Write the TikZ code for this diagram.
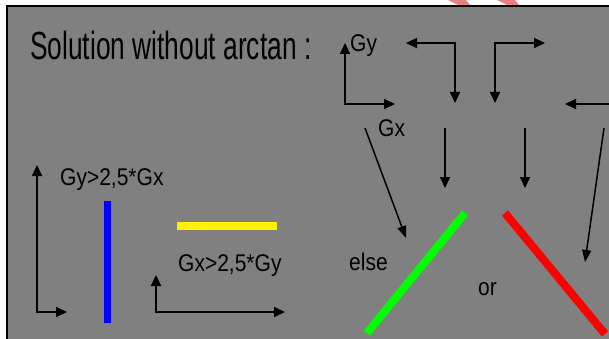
\documentclass[tikz,border=0pt]{standalone}
\usepackage{fontspec}
\setmainfont{Liberation Sans}
\usetikzlibrary{arrows.meta}
\definecolor{bggray}{RGB}{128,128,128}
\definecolor{pinkmark}{RGB}{232,128,128}
\begin{document}
\begin{tikzpicture}[x=1pt,y=-1pt,
  tip/.tip={Triangle[length=11pt,width=10pt]},
  arr/.style={line width=2pt,-tip},
  biarr/.style={line width=2pt,tip-tip},
  diag/.style={line width=1.5pt,-{Triangle[length=12pt,width=9pt]}},
  lbl/.style={inner sep=0pt,anchor=base west,yscale=1.15,font=\fontsize{21}{21}\selectfont},
  bar/.style={line width=#1}]
\useasboundingbox (0,0) rectangle (609,339);
% background and frame
\fill[white] (0,0) rectangle (609,339);
\fill[bggray] (7,6) rectangle (609,339);
\draw[line width=1.8pt] (7,339) -- (7,6) -- (609,6);
\fill[pinkmark] (448,0) -- (466,0) -- (470,5) -- (458,5) -- cycle;
\fill[pinkmark] (497,0) -- (515,0) -- (519,5) -- (507,5) -- cycle;
% title
\node[lbl,font=\fontsize{31}{31}\selectfont,xscale=0.85,yscale=1.1] (title) at (30,60) {Solution without arctan :};
% coordinates
\coordinate (o1) at (345,104); \coordinate (o1y) at (345,43); \coordinate (o1x) at (395,104);
\coordinate (c2l) at (406,43); \coordinate (c2) at (455,43); \coordinate (c2d) at (455,103);
\coordinate (c3d) at (495,103); \coordinate (c3) at (495,43); \coordinate (c3r) at (545,43);
\coordinate (r4s) at (609,104); \coordinate (r4e) at (565,104);
\coordinate (d1s) at (445,128); \coordinate (d1e) at (445,188);
\coordinate (d2s) at (525,128); \coordinate (d2e) at (525,188);
\coordinate (g1s) at (365,128); \coordinate (g1e) at (406,238);
\coordinate (g2s) at (604,128); \coordinate (g2e) at (585,262);
\coordinate (a1o) at (37,312); \coordinate (a1y) at (37,165); \coordinate (a1x) at (67,312);
\coordinate (a2o) at (156,312); \coordinate (a2y) at (156,275); \coordinate (a2x) at (285,312);
% arrows
\draw[biarr] (o1y) -- (o1) -- (o1x);
\draw[biarr] (c2l) -- (c2) -- (c2d);
\draw[biarr] (c3d) -- (c3) -- (c3r);
\draw[arr] (r4s) -- (r4e);
\draw[arr] (d1s) -- (d1e);
\draw[arr] (d2s) -- (d2e);
\draw[diag] (g1s) -- (g1e);
\draw[diag] (g2s) -- (g2e);
\draw[biarr] (a1y) -- (a1o) -- (a1x);
\draw[biarr] (a2y) -- (a2o) -- (a2x);
% labels
\node[lbl] (gy) at (350,52) {Gy};
\node[lbl] (gx) at (378,137) {Gx};
\node[lbl] (cond1) at (60,185) {Gy>2,5*Gx};
\node[lbl] (cond2) at (178,271) {Gx>2,5*Gy};
\node[lbl] (else) at (349,270) {else};
\node[lbl] (or) at (478,295) {or};
% coloured bars
\draw[bar=7pt,blue] (107,201) -- (107,323);
\draw[bar=8pt,yellow] (177,226) -- (277,226);
\draw[bar=8pt,green] (465,213) -- (367,333);
\draw[bar=8pt,red] (505,213) -- (605,334);
\end{tikzpicture}
\end{document}
